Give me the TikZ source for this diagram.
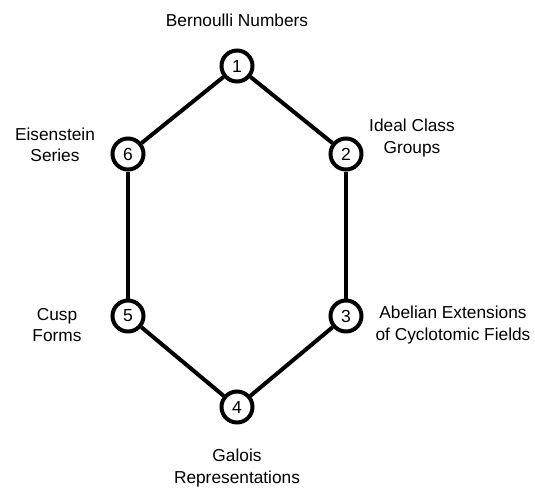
\documentclass[tikz,border=0pt]{standalone}
\usepackage{fontspec}
\setmainfont{Liberation Sans}
\begin{document}
\begin{tikzpicture}[x=1pt,y=-1pt,
  vert/.style={circle,draw=black,line width=4pt,fill=white,minimum size=31pt,inner sep=0pt,font=\fontsize{17.5}{20}\selectfont},
  lbl/.style={align=center,font=\fontsize{17.3}{21.5}\selectfont},
  edge/.style={line width=4pt}]
\useasboundingbox (0,0) rectangle (535,487);
\node[vert] (n1) at (237,66) {1};
\node[vert] (n2) at (346,154) {2};
\node[vert] (n3) at (346,316) {3};
\node[vert] (n4) at (237,407) {4};
\node[vert] (n5) at (128,316) {5};
\node[vert] (n6) at (128,154) {6};
\draw[edge] (n1) -- (n2);
\draw[edge] (n2) -- (n3);
\draw[edge] (n3) -- (n4);
\draw[edge] (n4) -- (n5);
\draw[edge] (n5) -- (n6);
\draw[edge] (n6) -- (n1);
\node[lbl] (l1) at (237,20) {Bernoulli Numbers};
\node[lbl] (l2) at (412,138) {Ideal Class\\Groups};
\node[lbl] (l3) at (453,325) {Abelian Extensions\\of Cyclotomic Fields};
\node[lbl] (l4) at (237,468) {Galois\\Representations};
\node[lbl] (l5) at (57,325) {Cusp\\Forms};
\node[lbl] (l6) at (55,145) {Eisenstein\\Series};
\end{tikzpicture}
\end{document}
